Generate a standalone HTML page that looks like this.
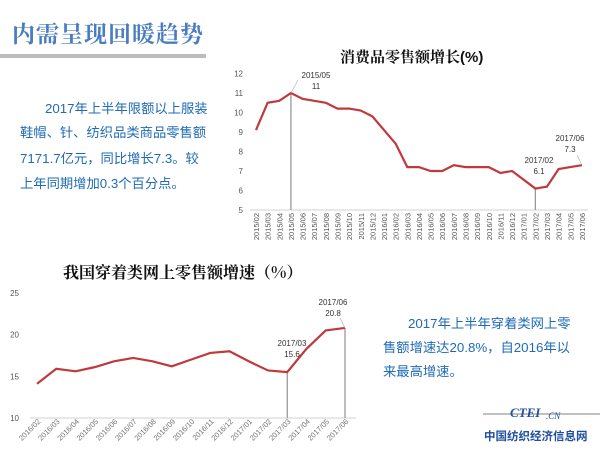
<!DOCTYPE html>
<html><head><meta charset="utf-8"><style>
html,body{margin:0;padding:0;background:#fff;width:600px;height:450px;overflow:hidden}
svg{display:block}
.cj{font-family:"Liberation Sans","Noto Sans CJK SC",sans-serif}
</style></head><body>
<svg id="s" width="600" height="450" xmlns="http://www.w3.org/2000/svg">
<text x="12" y="42" font-family="'Noto Serif CJK SC',serif" font-weight="bold" font-size="23" fill="#4a7cc0" letter-spacing="1">内需呈现回暖趋势</text>
<rect x="0" y="54" width="206" height="4" fill="#bdbdbd"/>
<g class="cj" font-size="13.3" fill="#1f6bb5">
<text x="45" y="113">2017年上半年限额以上服装</text>
<text x="20" y="137">鞋帽、针、纺织品类商品零售额</text>
<text x="20" y="163">7171.7亿元，同比增长7.3。较</text>
<text x="20" y="188">上年同期增加0.3个百分点。</text>
<text x="408" y="328">2017年上半年穿着类网上零</text>
<text x="383" y="352">售额增速达20.8%，自2016年以</text>
<text x="383" y="376">来最高增速。</text>
</g>
<text x="340" y="62" font-family="'Noto Serif CJK SC',serif" font-weight="bold" font-size="15" fill="#111">消费品零售额增长<tspan font-family="Liberation Sans">(%)</tspan></text>
<text x="63" y="278" font-family="'Noto Serif CJK SC',serif" font-weight="bold" font-size="16" fill="#111">我国穿着类网上零售额增速（%）</text>
<g id="c1"></g><g id="c2"></g>
<rect x="483" y="413" width="117" height="2" fill="#c0c0c0"/>
<text x="510" y="417" font-family="'Liberation Serif',serif" font-style="italic" font-weight="bold" font-size="13" fill="#1f4fa0">CTEI</text>
<text x="546" y="419" font-family="'Liberation Serif',serif" font-style="italic" font-size="9" fill="#1f4fa0">.CN</text>
<text x="484" y="440" class="cj" font-weight="bold" font-size="11.5" fill="#1f4fa0">中国纺织经济信息网</text>
</svg>
<script>
var NS="http://www.w3.org/2000/svg";
function el(p,t,a,txt){var e=document.createElementNS(NS,t);for(var k in a)e.setAttribute(k,a[k]);if(txt!=null)e.textContent=txt;p.appendChild(e);return e;}
var g=document.getElementById('c1');
var d1=[9.1,10.5,10.6,11,10.7,10.6,10.5,10.2,10.2,10.1,9.8,9.1,8.4,7.2,7.2,7.0,7.0,7.3,7.2,7.2,7.2,6.9,7.0,6.55,6.1,6.2,7.1,7.2,7.3];
var lab1=[];for(var y=2015;y<=2017;y++)for(var m=1;m<=12;m++){if(y==2015&&m<2)continue;if(y==2017&&m>6)continue;lab1.push(y+'/'+(m<10?'0':'')+m);}
function X1(i){return 256+i*11.64}function Y1(v){return 210-(v-5)*19.5}
for(var v=5;v<=12;v++)el(g,'text',{x:243,y:Y1(v)+3,'font-size':8,'text-anchor':'end',fill:'#555','font-family':'Liberation Sans'},v);
el(g,'line',{x1:250,y1:210,x2:588,y2:210,stroke:'#d0d0d0','stroke-width':1});
lab1.forEach(function(l,i){el(g,'text',{transform:'translate('+(X1(i)+3)+',213) rotate(-90)','font-size':7.5,'text-anchor':'end',fill:'#555','font-family':'Liberation Sans'},l);});
el(g,'line',{x1:X1(3),y1:Y1(11),x2:X1(3),y2:210,stroke:'#999','stroke-width':1.3});
el(g,'line',{x1:X1(24),y1:Y1(6.1),x2:X1(24),y2:210,stroke:'#999','stroke-width':1.3});
el(g,'polyline',{points:d1.map(function(v,i){return X1(i)+','+Y1(v)}).join(' '),fill:'none',stroke:'#c0393b','stroke-width':2.2});
function lbl(p,x,y,a,b){el(p,'text',{x:x,y:y,'font-size':8,'text-anchor':'middle',fill:'#333','font-family':'Liberation Sans'},a);el(p,'text',{x:x,y:y+11,'font-size':8,'text-anchor':'middle',fill:'#333','font-family':'Liberation Sans'},b);}
lbl(g,316,78,'2015/05','11');el(g,'line',{x1:X1(3),y1:Y1(11),x2:298,y2:80,stroke:'#aaa','stroke-width':0.6});
lbl(g,539,163,'2017/02','6.1');
lbl(g,570,141,'2017/06','7.3');el(g,'line',{x1:577,y1:155,x2:X1(28),y2:Y1(7.3),stroke:'#aaa','stroke-width':0.6});
var g2=document.getElementById('c2');
var d2=[14.1,15.9,15.6,16.1,16.8,17.2,16.8,16.2,17.0,17.8,18.0,16.8,15.7,15.5,18.3,20.5,20.8];
var lab2=['2016/02','2016/03','2016/04','2016/05','2016/06','2016/07','2016/08','2016/09','2016/10','2016/11','2016/12','2017/01','2017/02','2017/03','2017/04','2017/05','2017/06'];
function X2(i){return 37+i*19.25}function Y2(v){return 418-(v-10)*8.34}
[10,15,20,25].forEach(function(v){el(g2,'text',{x:19,y:Y2(v)+3,'font-size':8,'text-anchor':'end',fill:'#555','font-family':'Liberation Sans'},v);});
el(g2,'line',{x1:30,y1:418,x2:356,y2:418,stroke:'#d0d0d0','stroke-width':1});
lab2.forEach(function(l,i){el(g2,'text',{transform:'translate('+(X2(i)+4)+',422) rotate(-45)','font-size':7.5,'text-anchor':'end',fill:'#777','font-family':'Liberation Sans'},l);});
el(g2,'line',{x1:X2(13),y1:Y2(15.6),x2:X2(13),y2:418,stroke:'#999','stroke-width':1.3});
el(g2,'line',{x1:X2(16),y1:Y2(20.8),x2:X2(16),y2:418,stroke:'#999','stroke-width':1.3});
el(g2,'polyline',{points:d2.map(function(v,i){return X2(i)+','+Y2(v)}).join(' '),fill:'none',stroke:'#c0393b','stroke-width':2.2});
lbl(g2,292,346,'2017/03','15.6');
lbl(g2,333,305,'2017/06','20.8');el(g2,'line',{x1:340,y1:318,x2:X2(16),y2:Y2(20.8),stroke:'#aaa','stroke-width':0.6});
</script>
</body></html>
